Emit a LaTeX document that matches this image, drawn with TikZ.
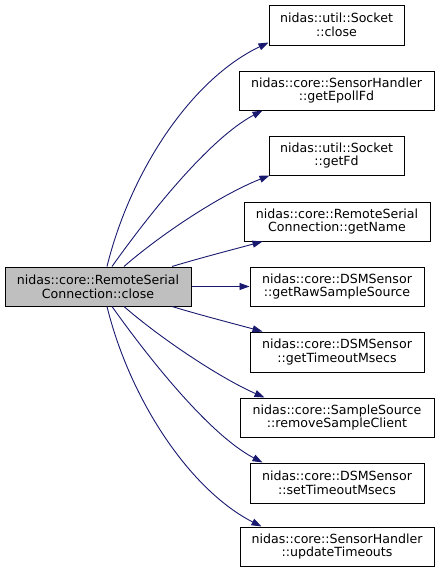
\documentclass[tikz,border=0pt]{standalone}
\usepackage{fontspec}
\setmainfont{DejaVu Sans}
\usetikzlibrary{arrows.meta}
\definecolor{edgeblue}{HTML}{191970}
\definecolor{mainfill}{HTML}{BFBFBF}
\begin{document}
\begin{tikzpicture}[x=1pt,y=-1pt,
  box/.style={draw=black,line width=1pt,fill=white,inner sep=0pt,align=center,
    font=\fontsize{12.6pt}{13.6pt}\selectfont,minimum height=39pt},
  mainbox/.style={box,fill=mainfill},
  edge/.style={draw=edgeblue,line width=0.9pt,-{Triangle[length=10pt,width=7pt]}}]
\useasboundingbox (0,0) rectangle (440,573);
\node[mainbox,minimum width=186pt] (m) at (98,286.5) {nidas::core::RemoteSerial\\Connection::close};
\node[box,minimum width=135pt,minimum height=40pt] (n1) at (336.5,25) {nidas::util::Socket\\::close};
\node[box,minimum width=195pt] (n2) at (336.5,90.5) {nidas::core::SensorHandler\\::getEpollFd};
\node[box,minimum width=135pt] (n3) at (336.5,155.5) {nidas::util::Socket\\::getFd};
\node[box,minimum width=186pt] (n4) at (337,221.5) {nidas::core::RemoteSerial\\Connection::getName};
\node[box,minimum width=174pt] (n5) at (337,286.5) {nidas::core::DSMSensor\\::getRawSampleSource};
\node[box,minimum width=174pt,minimum height=40pt] (n6) at (337,352) {nidas::core::DSMSensor\\::getTimeoutMsecs};
\node[box,minimum width=194pt] (n7) at (337,417.5) {nidas::core::SampleSource\\::removeSampleClient};
\node[box,minimum width=174pt,minimum height=40pt] (n8) at (337,483) {nidas::core::DSMSensor\\::setTimeoutMsecs};
\node[box,minimum width=194pt] (n9) at (337,546.5) {nidas::core::SensorHandler\\::updateTimeouts};
\draw[edge] ([xshift=9pt]m.north) .. controls (130,173) and (190,80) .. ([yshift=3pt]n1.south west);
\draw[edge] ([xshift=14pt]m.north) .. controls (150,213) and (210,138) .. ([xshift=24pt]n2.south west);
\draw[edge] ([xshift=26pt]m.north) .. controls (160,235) and (220,195) .. ([xshift=1pt]n3.south west);
\draw[edge] ([xshift=74pt]m.north) .. controls (200,258) and (235,249) .. ([xshift=19pt]n4.south west);
\draw[edge] (m.east) -- (n5.west);
\draw[edge] ([xshift=74pt]m.south) .. controls (200,315) and (235,324) .. ([xshift=13pt]n6.north west);
\draw[edge] ([xshift=26pt]m.south) .. controls (160,338) and (220,378) .. ([xshift=25pt]n7.north west);
\draw[edge] ([xshift=14pt]m.south) .. controls (150,360) and (210,435) .. ([xshift=13pt]n8.north west);
\draw[edge] ([xshift=9pt]m.south) .. controls (130,400) and (190,490) .. ([xshift=22pt]n9.north west);
\end{tikzpicture}
\end{document}
